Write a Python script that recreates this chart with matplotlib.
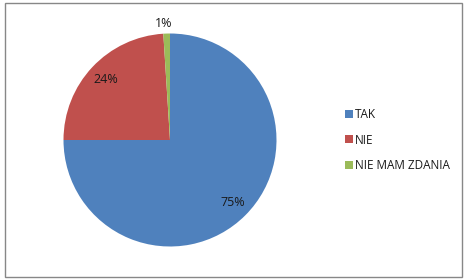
import matplotlib
matplotlib.use('Agg')
from matplotlib import pyplot as plt
from matplotlib.patches import Rectangle
import numpy as np

labels = ['TAK', 'NIE', 'NIE MAM ZDANIA']
values = [75, 24, 1]
colors = ['#4F81BD', '#C0504D', '#9BBB59']

plt.rcParams['font.family'] = ['Open Sans', 'DejaVu Sans']

W, H = 474, 280
fig = plt.figure(figsize=(W / 100, H / 100), dpi=100)
fig.patch.set_facecolor('white')

# outer chart border
fig.patches.append(Rectangle((5 / W, 3 / H), 457 / W, 274 / H, transform=fig.transFigure,
                             fill=False, edgecolor='#878787', linewidth=1))

# pie: center (170,140), radius ~106.5 px
ax = fig.add_axes([63.5 / W, 33.5 / H, 213 / W, 213 / H])
wedges, texts, autotexts = ax.pie(values, colors=colors, startangle=90, counterclock=False,
                                  autopct='%d%%', pctdistance=0.83,
                                  wedgeprops=dict(linewidth=0),
                                  textprops=dict(fontsize=9, color='#1a1a1a'))
ax.set_xlim(-1, 1)
ax.set_ylim(-1, 1)
ax.set_aspect('equal')

# small slice label goes outside
w = wedges[2]
ang = np.deg2rad((w.theta1 + w.theta2) / 2)
autotexts[2].set_position((1.09 * np.cos(ang) - 0.03, 1.09 * np.sin(ang)))

leg = fig.legend(wedges, labels, loc='center left', bbox_to_anchor=(339 / W, 1 - 140 / H),
                 frameon=False, fontsize=8.5, handlelength=0.65, handleheight=0.65,
                 handletextpad=0.2, labelspacing=1.05, borderpad=0)
for t in leg.get_texts():
    t.set_color('#1a1a1a')

fig.savefig('out.png', dpi=100)
